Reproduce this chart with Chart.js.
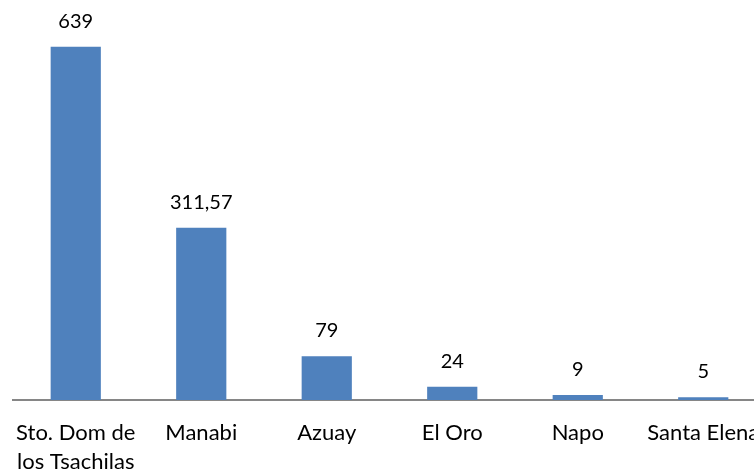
<!DOCTYPE html>
<html>
<head>
<meta charset="utf-8">
<script src="https://cdn.jsdelivr.net/npm/chart.js@4/dist/chart.umd.min.js"></script>
<style>
    html, body { margin: 0; padding: 0; background: #fff; overflow: hidden; }
    #wrap { position: relative; width: 770px; height: 474px; }
</style>
</head>
<body>
<div id="wrap"><canvas id="bar-chart"></canvas></div>
<script>
// Provincias y valores
const provinces = [['Sto. Dom de', 'los Tsachilas'], 'Manabi', 'Azuay', 'El Oro', 'Napo', 'Santa Elena'];
const values = [639, 311.57, 79, 24, 9, 5];
const yMax = 700;

// Etiquetas de valor sobre cada barra (coma decimal)
const valueLabels = {
    id: 'valueLabels',
    afterDatasetsDraw(chart) {
        const ctx = chart.ctx;
        const meta = chart.getDatasetMeta(0);
        ctx.save();
        ctx.font = '20px Lato';
        ctx.fillStyle = '#000';
        ctx.textAlign = 'center';
        ctx.textBaseline = 'alphabetic';
        meta.data.forEach((bar, i) => {
            ctx.fillText(String(values[i]).replace('.', ','), bar.x, bar.y - 19);
        });
        ctx.restore();
    },
};

const ctx = document.getElementById('bar-chart').getContext('2d');
new Chart(ctx, {
    type: 'bar',
    data: {
        labels: provinces,
        datasets: [{
            data: values,
            backgroundColor: '#4F81BD',
            barPercentage: 0.4,
            categoryPercentage: 1.0,
        }],
    },
    options: {
        responsive: true,
        maintainAspectRatio: false,
        animation: false,
        layout: { padding: { left: 13, right: 4, top: 13, bottom: 0 } },
        plugins: {
            legend: { display: false },
            tooltip: { enabled: false },
        },
        scales: {
            x: {
                grid: { display: false },
                border: { display: true, color: '#868686', width: 2 },
                ticks: {
                    color: '#000',
                    font: { family: 'Lato', size: 22, lineHeight: 1.32 },
                    maxRotation: 0,
                    autoSkip: false,
                    padding: 10,
                },
                afterFit: (axis) => { axis.height = 74; },
            },
            y: {
                display: false,
                min: 0,
                max: yMax,
            },
        },
    },
    plugins: [valueLabels],
});
</script>
</body>
</html>
